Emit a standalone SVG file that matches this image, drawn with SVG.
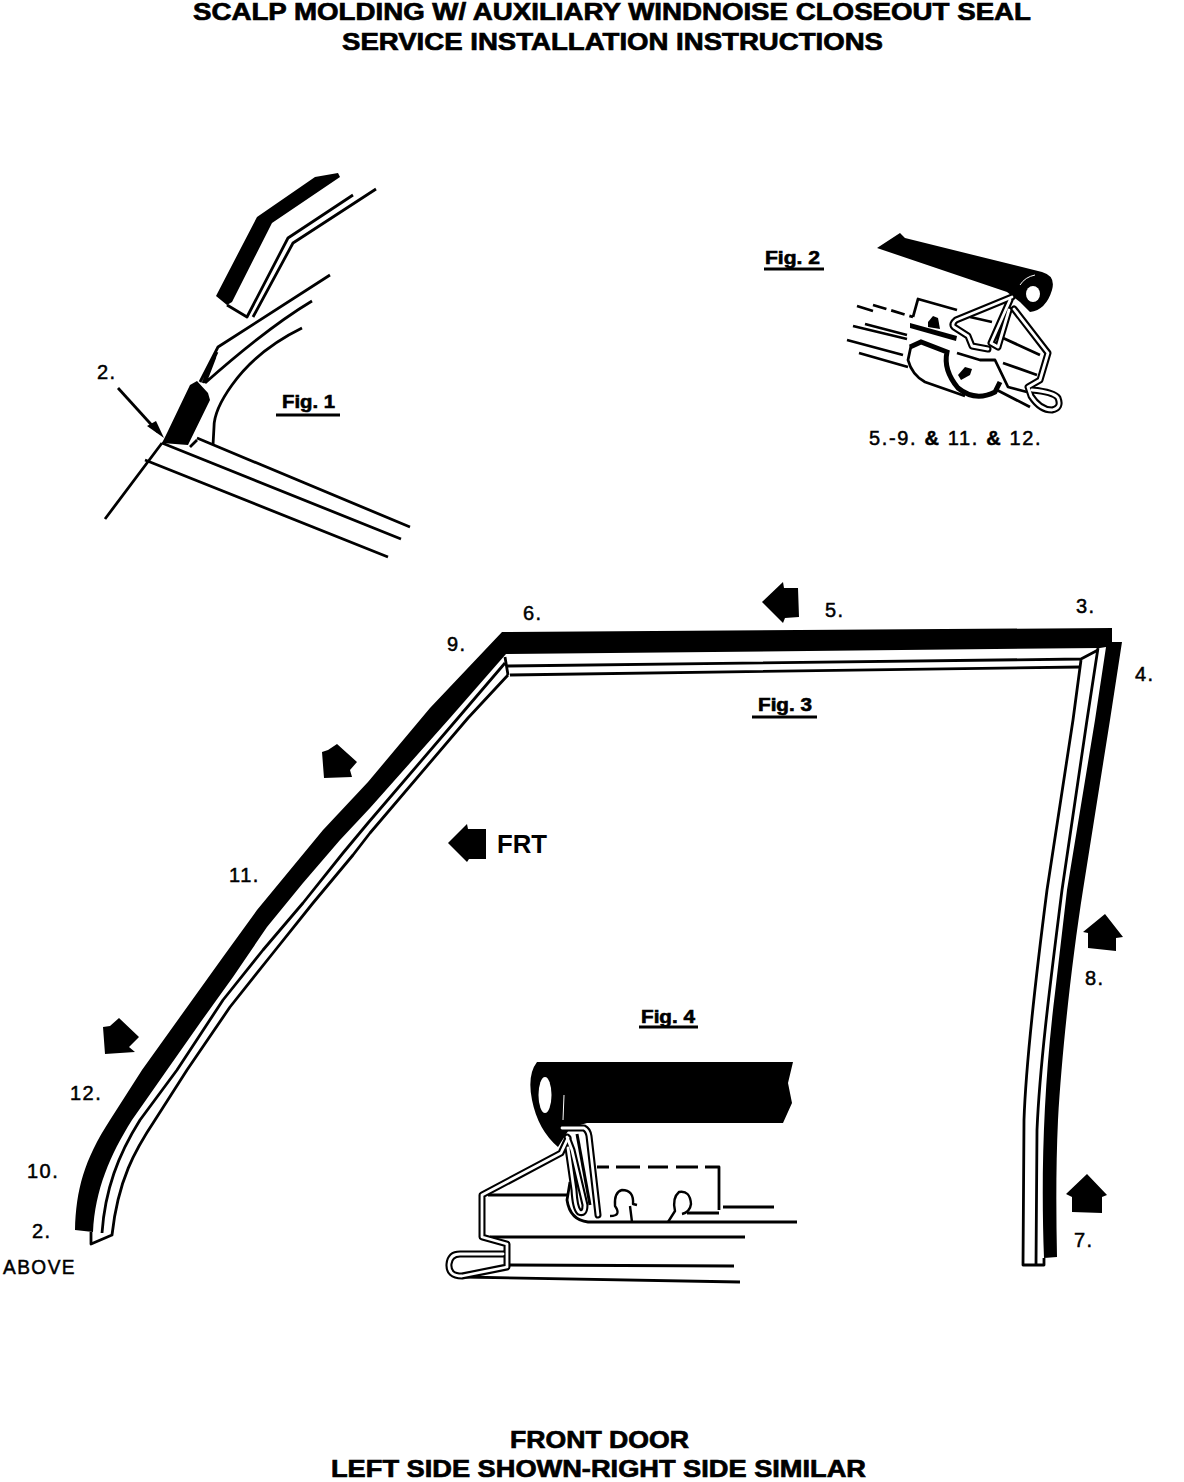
<svg xmlns="http://www.w3.org/2000/svg" width="1184" height="1482" viewBox="0 0 1184 1482">
<style>
.l{fill:none;stroke:#000;stroke-width:2.8;stroke-linejoin:round}
.t{fill:none;stroke:#000;stroke-width:2.4;stroke-linejoin:round}
.k{fill:#000;stroke:none}
.o{fill:none;stroke:#000;stroke-width:7;stroke-linejoin:round;stroke-linecap:round}
.w{fill:none;stroke:#fff;stroke-width:2.8;stroke-linejoin:round;stroke-linecap:round}
.h{font-family:"Liberation Sans",Arial,sans-serif;font-weight:700;font-size:24px;fill:#000;stroke:#000;stroke-width:.7}
.n{font-family:"Liberation Sans",Arial,sans-serif;font-size:20px;letter-spacing:1.5px;fill:#000;stroke:#000;stroke-width:.5}
.f{font-family:"Liberation Sans",Arial,sans-serif;font-weight:700;font-size:18px;fill:#000;stroke:#000;stroke-width:.6}
</style>
<defs>
<path id="c2a" d="M1012,297L956,320Q951,324 954,327L968,336L972,346L988,349"/>
<path id="c2b" d="M1010,300L991,343L998,347L1009,310"/>
<path id="c2c" d="M1014,309L1048,353L1040,380L1028,387L1031,396Q1040,410 1052,410Q1062,408 1058,398Q1054,392 1032,390"/>
<path id="c4a" d="M568,1138L561,1153L482,1195L482,1237L507,1244L507,1267L462,1276Q448,1276 449,1264Q450,1254 460,1254L503,1254"/>
<path id="c4b" d="M562,1128L584,1128Q588,1130 589,1136L598,1215"/>
<path id="c4c" d="M567,1137L572,1150L585,1205Q585,1215 579,1212Q575,1208 574,1190L568,1148"/>
</defs>

<g id="title">
<text class="h" x="193" y="20" textLength="838" lengthAdjust="spacingAndGlyphs">SCALP MOLDING W/ AUXILIARY WINDNOISE CLOSEOUT SEAL</text>
<text class="h" x="342" y="50" textLength="541" lengthAdjust="spacingAndGlyphs">SERVICE INSTALLATION INSTRUCTIONS</text>
</g>

<g id="fig1">
<path class="k" d="M216,296L257,217L315,177L338,173L340,177L272,223L232,302L227,305Z"/>
<path class="l" d="M227,305L247,317L288,238L353,195M253,317L293,243L376,189"/>
<path class="l" d="M330,275L218,347L200,382M217,352L203,383M215,357L205,383M312,301Q267,328 205,383"/>
<path class="l" d="M302,328Q257,350 232,385Q214,410 214,427L213,445"/>
<path class="k" d="M190,385L197,381L208,393L210,400L188,445L162,443L167,433Z"/>
<path class="l" d="M197,438L410,527M162,443L401,539M145,460L388,557M162,443L105,519M190,447L197,440"/>
<path class="l" d="M118,388L158,432"/>
<path class="k" d="M147,426L156,421L164,438Z"/>
<text class="n" x="97" y="379">2.</text>
<text class="f" x="282" y="408" textLength="53" lengthAdjust="spacingAndGlyphs">Fig. 1</text>
<path class="l" d="M276,415H340"/>
</g>

<g id="fig2">
<text class="f" x="765" y="264" textLength="55" lengthAdjust="spacingAndGlyphs">Fig. 2</text>
<path class="l" d="M764,269H824"/>
<path class="k" d="M877,248L900,233L905,238L1042,272Q1056,276 1052,290Q1046,310 1030,312L1020,302L1007,292Z"/>
<ellipse cx="1033" cy="294" rx="7" ry="8" fill="#fff"/>
<path fill="none" stroke="#fff" stroke-width="1" d="M1020,285Q1025,277 1035,275"/>
<path class="l" d="M857,306L873,311M913,317L918,299L957,310M853,326L907,339M865,324L907,335M847,340L903,355M859,353L908,367M970,317L992,322"/>
<path class="l" stroke-dasharray="14 5" d="M873,305L913,317"/>
<path class="k" d="M910,323L957,336L956,341L910,328Z"/>
<path class="k" d="M928,322L933,316L938,318L940,329L928,327Z"/>
<path class="l" d="M1003,338L1040,355M1003,363L1037,375M957,353L980,360L995,360L1008,387L1027,392M997,390L1030,407"/>
<path class="l" d="M911,346L908,360Q912,375 925,382L965,396"/>
<path fill="none" stroke="#000" stroke-width="5" d="M910,347L921,342L947,352Q943,370 958,388Q975,402 995,392L1000,382"/>
<path class="k" d="M958,375L965,367L972,369L970,375L961,380Z"/>
<use href="#c2a" class="o"/><use href="#c2b" class="o"/><use href="#c2c" class="o"/>
<use href="#c2a" class="w"/><use href="#c2b" class="w"/><use href="#c2c" class="w"/>
<text class="n" x="869" y="445" textLength="173" lengthAdjust="spacing">5.-9. <tspan font-weight="700">&amp;</tspan> 11. <tspan font-weight="700">&amp;</tspan> 12.</text>
</g>

<g id="fig3">
<path class="k" d="M502,632L1112,628V642H1122L1110,720L1083,890C1072,960 1062,1050 1058,1120C1056,1163 1056,1210 1057,1257L1044,1258C1041,1180 1043,1090 1055,993L1067,890L1095,720L1106,647L1100,648L506,654L450,718L370,808L340,840L303,883L267,927L233,977L200,1023L167,1070L132,1120C110,1155 95,1190 93,1232L75,1230C76,1190 84,1160 110,1120L142,1070L190,1003L223,957L257,910L290,870L323,830L368,782L430,708Z"/>
<path class="l" d="M505,657L508,675M507,666L1081,659L1098,650M510,675L1081,667"/>
<path class="l" d="M1081,660L1073,720L1047,890C1038,960 1026,1060 1024,1120L1023,1265H1044V1258M1098,648L1087,720L1062,890C1052,970 1040,1060 1037,1130L1036,1265"/>
<path class="l" d="M505,663L458,718L368,823L343,853L303,903L263,950L223,1000L177,1070L140,1120C118,1155 105,1190 102,1233M508,675L468,718L370,833L353,855L313,903L273,953L230,1007L187,1070L155,1120C135,1150 118,1180 112,1235L91,1244V1232"/>
<path class="k" d="M762,602L783,582L784,588H798L799,617L785,618L783,623Z"/>
<path class="k" d="M337,744L357,762L350,770L352,777L324,778L322,752L328,750Z"/>
<path class="k" d="M119,1018L139,1037L129,1047L135,1052L105,1054L103,1027L110,1026Z"/>
<path class="k" d="M1105,914L1123,937L1116,938V951L1088,948V933L1083,932Z"/>
<path class="k" d="M1087,1174L1107,1195L1102,1197V1213L1072,1212V1197L1066,1194Z"/>
<path class="k" d="M448,843L467,824L468,829H486V859H469L467,862Z"/>
<text x="497" y="853" font-family="Liberation Sans, Arial, sans-serif" font-weight="700" font-size="26" textLength="50" lengthAdjust="spacingAndGlyphs">FRT</text>
<text class="f" x="758" y="711" textLength="54" lengthAdjust="spacingAndGlyphs">Fig. 3</text>
<path class="l" d="M752,717H817"/>
<text class="n" x="523" y="620">6.</text>
<text class="n" x="447" y="651">9.</text>
<text class="n" x="825" y="617">5.</text>
<text class="n" x="1076" y="613">3.</text>
<text class="n" x="1135" y="681">4.</text>
<text class="n" x="229" y="882">11.</text>
<text class="n" x="70" y="1100">12.</text>
<text class="n" x="27" y="1178">10.</text>
<text class="n" x="32" y="1238">2.</text>
<text class="n" x="3" y="1274" textLength="73" lengthAdjust="spacingAndGlyphs">ABOVE</text>
<text class="n" x="1085" y="985">8.</text>
<text class="n" x="1074" y="1247">7.</text>
</g>

<g id="fig4">
<text class="f" x="641" y="1023" textLength="54" lengthAdjust="spacingAndGlyphs">Fig. 4</text>
<path class="l" d="M639,1027H698"/>
<path class="k" d="M537,1062H793L788,1083L792,1103L783,1123H587L570,1128L558,1147Q538,1130 532,1100Q527,1075 537,1062Z"/>
<ellipse cx="545" cy="1095" rx="6.5" ry="18" fill="#fff"/>
<path fill="none" stroke="#fff" stroke-width="1" d="M564,1095L563,1120"/>
<path class="l" d="M597,1167H609M616,1167H640M648,1167H668M676,1167H698M705,1167H719V1210M687,1213H719M723,1207H774"/>
<path class="l" d="M488,1195H568M490,1237H745M510,1265L734,1266M463,1277L740,1282"/>
<path class="l" d="M570,1182L567,1200Q570,1220 588,1222H797"/>
<path class="t" d="M610,1216Q622,1216 615,1206Q614,1192 622,1190Q634,1190 633,1204L637,1205M630,1206L632,1222M668,1222L675,1211Q672,1198 679,1192Q690,1190 691,1204Q690,1212 682,1214"/>
<use href="#c4a" class="o"/><use href="#c4b" class="o"/><use href="#c4c" class="o"/>
<use href="#c4a" class="w"/><use href="#c4b" class="w"/><use href="#c4c" class="w"/>
<path fill="none" stroke="#000" stroke-width="3" d="M577,1134L590,1205"/>
</g>

<g id="footer">
<text class="h" x="510" y="1448" textLength="179" lengthAdjust="spacingAndGlyphs">FRONT DOOR</text>
<text class="h" x="331" y="1477" textLength="535" lengthAdjust="spacingAndGlyphs">LEFT SIDE SHOWN-RIGHT SIDE SIMILAR</text>
</g>
</svg>
